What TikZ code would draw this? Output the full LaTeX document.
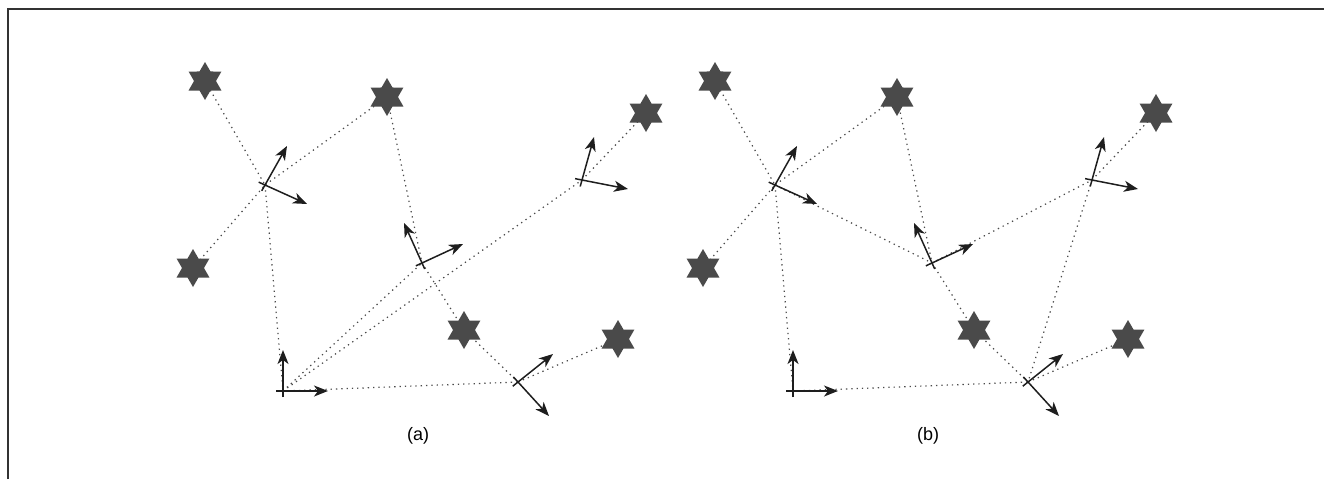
\documentclass[tikz,border=0pt]{standalone}
\usepackage{fontspec}
\setmainfont{Liberation Sans}
\usetikzlibrary{shapes.geometric,arrows.meta,calc}
\definecolor{starcol}{HTML}{4A4A4A}
\definecolor{dotcol}{HTML}{4A4A4A}
\definecolor{axcol}{HTML}{1E1E1E}
\definecolor{framecol}{HTML}{333333}
\tikzset{
  landmark/.style={star, star points=6, star point ratio=1.732, minimum size=38pt, inner sep=0pt, fill=starcol, draw=none},
  dotline/.style={draw=dotcol, line width=1.2pt, dash pattern=on 1.3pt off 4pt},
  axisarrow/.style={draw=axcol, line width=1.5pt, -{Stealth[length=14pt,width=11pt,inset=4pt]}},
  caption/.style={font=\fontsize{18}{21}\selectfont, inner sep=0pt},
}
\newcommand\drawpanel[2]{%
  \begin{scope}[xshift=#2]
    \node[landmark] (#1s1) at (205,81) {};
    \node[landmark] (#1s2) at (387,97) {};
    \node[landmark] (#1s3) at (646,113) {};
    \node[landmark] (#1s4) at (193,268) {};
    \node[landmark] (#1s5) at (464,330) {};
    \node[landmark] (#1s6) at (618,339) {};
    \coordinate (#1o) at (283,391);
    \coordinate (#1ox) at (328,391);
    \coordinate (#1oy) at (283,350);
    \coordinate (#1p1) at (265,185);
    \coordinate (#1p1a) at (287,146);
    \coordinate (#1p1b) at (307,204);
    \coordinate (#1p2) at (422,263);
    \coordinate (#1p2a) at (404,223);
    \coordinate (#1p2b) at (463,244);
    \coordinate (#1p3) at (582,180);
    \coordinate (#1p3a) at (594,137);
    \coordinate (#1p3b) at (628,189);
    \coordinate (#1p4) at (518,382);
    \coordinate (#1p4a) at (553,354);
    \coordinate (#1p4b) at (549,416);
  \end{scope}
}
\newcommand\drawframe[3]{%
  \draw[axisarrow] ($(#1)!-0.15!(#2)$) -- (#2);
  \draw[axisarrow] ($(#1)!-0.15!(#3)$) -- (#3);
}
\begin{document}
\begin{tikzpicture}[x=1pt,y=-1pt]
\useasboundingbox (0,0) rectangle (1324,479);
\draw[framecol, line width=1.5pt] (8,479) -- (8,9) -- (1324,9);
\drawpanel{a}{0}
\drawpanel{b}{510}
% panel (a) connections
\draw[dotline] (as1.center) -- (ap1);
\draw[dotline] (as2.center) -- (ap1);
\draw[dotline] (as4.center) -- (ap1);
\draw[dotline] (ap1) -- (ao);
\draw[dotline] (as2.center) -- (ap2);
\draw[dotline] (ap2) -- (as5.center);
\draw[dotline] (as5.center) -- (ap4);
\draw[dotline] (ap4) -- (as6.center);
\draw[dotline] (ao) -- (ap4);
\draw[dotline] (ao) -- (ap2);
\draw[dotline] (ao) -- (ap3);
\draw[dotline] (ap3) -- (as3.center);
% panel (b) connections
\draw[dotline] (bs1.center) -- (bp1);
\draw[dotline] (bs2.center) -- (bp1);
\draw[dotline] (bs4.center) -- (bp1);
\draw[dotline] (bp1) -- (bo);
\draw[dotline] (bp1) -- (bp2);
\draw[dotline] (bs2.center) -- (bp2);
\draw[dotline] (bp2) -- (bs5.center);
\draw[dotline] (bp2) -- (bp3);
\draw[dotline] (bp3) -- (bs3.center);
\draw[dotline] (bp3) -- (bp4);
\draw[dotline] (bs5.center) -- (bp4);
\draw[dotline] (bp4) -- (bs6.center);
\draw[dotline] (bo) -- (bp4);
% frames
\drawframe{ao}{aoy}{aox}
\drawframe{ap1}{ap1a}{ap1b}
\drawframe{ap2}{ap2a}{ap2b}
\drawframe{ap3}{ap3a}{ap3b}
\drawframe{ap4}{ap4a}{ap4b}
\drawframe{bo}{boy}{box}
\drawframe{bp1}{bp1a}{bp1b}
\drawframe{bp2}{bp2a}{bp2b}
\drawframe{bp3}{bp3a}{bp3b}
\drawframe{bp4}{bp4a}{bp4b}
\node[caption] (capa) at (418,436) {(a)};
\node[caption] (capb) at (928,436) {(b)};
\end{tikzpicture}
\end{document}
